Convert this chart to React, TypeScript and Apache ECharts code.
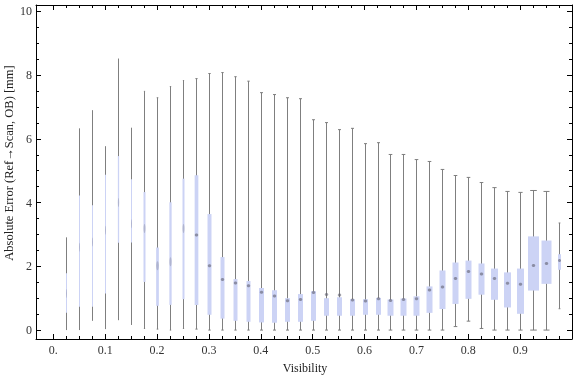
import React, { useEffect, useRef } from "react";
import * as echarts from "echarts";

// Visibility bin centres
const visibility = [
  0.025, 0.05, 0.075, 0.1, 0.125, 0.15, 0.175, 0.2, 0.225, 0.25,
  0.275, 0.3, 0.325, 0.35, 0.375, 0.4, 0.425, 0.45, 0.475, 0.5,
  0.525, 0.55, 0.575, 0.6, 0.625, 0.65, 0.675, 0.7, 0.725, 0.75,
  0.775, 0.8, 0.825, 0.85, 0.875, 0.9, 0.925, 0.95, 0.975,
];
const whiskerMin = [
  0, 0, 0.29, 0.03, 0.31, 0.16, 0.05, 0.03, 0, 0.05,
  0.03, 0, 0, 0, 0, 0, 0, 0, 0, 0,
  0, 0, 0, 0, 0, 0, 0, 0, 0, 0,
  0.11, 0.28, 0.05, 0, 0, 0, 0, 0, 0.67,
];
const quartile1 = [
  0.54, 0.73, 0.73, 1.15, 2.74, 2.75, 1.51, 0.76, 0.79, 0.97,
  0.79, 0.48, 0.36, 0.29, 0.26, 0.24, 0.23, 0.26, 0.26, 0.29,
  0.45, 0.45, 0.45, 0.48, 0.48, 0.45, 0.45, 0.45, 0.54, 0.66,
  0.82, 0.98, 1.11, 0.95, 0.71, 0.51, 1.24, 1.45, 1.89,
];
const medians = [
  1.15, 2.6, 2.76, 3.13, 4.0, 3.34, 3.19, 2.02, 2.14, 3.19,
  2.98, 2.02, 1.59, 1.48, 1.39, 1.19, 1.07, 0.92, 0.96, 1.18,
  1.12, 1.1, 0.94, 0.91, 0.98, 0.93, 0.96, 0.98, 1.26, 1.35,
  1.62, 1.84, 1.76, 1.62, 1.47, 1.44, 2.03, 2.09, 2.18,
];
const quartile3 = [
  1.78, 4.22, 3.92, 4.87, 5.46, 4.73, 4.33, 2.59, 4.01, 4.75,
  4.86, 3.64, 2.29, 1.6, 1.54, 1.32, 1.25, 1.0, 1.13, 1.22,
  1.0, 1.03, 0.97, 0.97, 1.01, 0.96, 0.99, 1.06, 1.37, 1.87,
  2.12, 2.18, 2.09, 1.93, 1.81, 1.93, 2.94, 2.81, 2.38,
];
const whiskerMax = [
  2.91, 6.33, 6.9, 5.77, 8.52, 6.35, 7.49, 7.29, 7.64, 7.83,
  7.89, 8.05, 8.08, 7.95, 7.81, 7.45, 7.39, 7.29, 7.26, 6.6,
  6.51, 6.29, 6.33, 5.85, 5.88, 5.51, 5.51, 5.35, 5.29, 5.04,
  4.85, 4.79, 4.63, 4.47, 4.35, 4.32, 4.38, 4.35, 3.36,
];
// drawn box widths in pixels (style)
const boxWidthPx = [
  1, 1, 1, 1, 1.3, 1, 2, 2.7, 2.3, 2,
  3.7, 4, 4, 4, 4, 5, 5, 5, 5, 5,
  5, 5, 5, 5, 5, 6, 6, 6, 6, 6,
  6, 6, 6, 7, 7, 7, 11, 10, 3,
];

const xMajorTicks = [0, 0.1, 0.2, 0.3, 0.4, 0.5, 0.6, 0.7, 0.8, 0.9];
const xMinorTicks = [
  0, 0.025, 0.05, 0.075, 0.1, 0.125, 0.15, 0.175, 0.2, 0.225, 0.25,
  0.275, 0.3, 0.325, 0.35, 0.375, 0.4, 0.425, 0.45, 0.475, 0.5,
  0.525, 0.55, 0.575, 0.6, 0.625, 0.65, 0.675, 0.7, 0.725, 0.75,
  0.775, 0.8, 0.825, 0.85, 0.875, 0.9, 0.925, 0.95, 0.975, 1.0,
];
const yMajorTicks = [0, 2, 4, 6, 8, 10];
const yMinorTicks = [
  0, 0.5, 1, 1.5, 2, 2.5, 3, 3.5, 4, 4.5, 5, 5.5, 6, 6.5, 7, 7.5, 8, 8.5, 9, 9.5, 10,
];

const X_MIN = -0.0335;
const X_MAX = 1.0;
const Y_MIN = -0.28;
const Y_MAX = 10.2;

const FONT = "'Liberation Serif', 'DejaVu Serif', serif";

export default function App() {
  const ref = useRef<HTMLDivElement>(null);

  useEffect(() => {
    if (!ref.current) return;
    const chart = echarts.init(ref.current, null, { renderer: "svg" });

    const data = visibility.map((v, i) => [
      v,
      whiskerMin[i],
      quartile1[i],
      medians[i],
      quartile3[i],
      whiskerMax[i],
    ]);

    const labelStyle = { fontFamily: FONT, fontSize: 12, color: "#333" };

    const xAxisBase = (position: string, ticks: number[], len: number, line: boolean, labels: boolean) => ({
      type: "value",
      min: X_MIN,
      max: X_MAX,
      position,
      splitLine: { show: false },
      axisLine: { show: line, onZero: false, lineStyle: { color: "#000", width: 1 } },
      axisTick: { show: true, inside: true, length: len, customValues: ticks, lineStyle: { color: "#000", width: 1 } },
      axisLabel: labels
        ? {
            show: true,
            customValues: xMajorTicks,
            margin: 5,
            ...labelStyle,
            formatter: (v: number) => (Math.abs(v) < 1e-9 ? "0." : v.toFixed(1)),
          }
        : { show: false },
    });
    const yAxisBase = (position: string, ticks: number[], len: number, line: boolean, labels: boolean) => ({
      type: "value",
      min: Y_MIN,
      max: Y_MAX,
      position,
      splitLine: { show: false },
      axisLine: { show: line, onZero: false, lineStyle: { color: "#000", width: 1 } },
      axisTick: { show: true, inside: true, length: len, customValues: ticks, lineStyle: { color: "#000", width: 1 } },
      axisLabel: labels
        ? {
            show: true,
            customValues: yMajorTicks,
            margin: 4,
            ...labelStyle,
            formatter: (v: number) => String(Math.round(v)),
          }
        : { show: false },
    });

    const option: any = {
      animation: false,
      grid: { left: 36, right: 4, top: 5, bottom: 38, containLabel: false },
      xAxis: [
        xAxisBase("bottom", xMajorTicks, 5, true, true),
        xAxisBase("bottom", xMinorTicks, 3, false, false),
        xAxisBase("top", xMajorTicks, 5, true, false),
        xAxisBase("top", xMinorTicks, 3, false, false),
      ],
      yAxis: [
        yAxisBase("left", yMajorTicks, 5, true, true),
        yAxisBase("left", yMinorTicks, 3, false, false),
        yAxisBase("right", yMajorTicks, 5, true, false),
        yAxisBase("right", yMinorTicks, 3, false, false),
      ],
      graphic: [
        {
          type: "text",
          x: 305,
          y: 368,
          style: {
            text: "Visibility",
            font: `12px ${FONT}`,
            fill: "#222",
            textAlign: "center",
            textVerticalAlign: "middle",
          },
        },
        {
          type: "text",
          x: 9,
          y: 163,
          rotation: Math.PI / 2,
          style: {
            text: "Absolute Error (Ref\u2192Scan, OB) [mm]",
            font: `12.5px ${FONT}`,
            fill: "#222",
            textAlign: "center",
            textVerticalAlign: "middle",
          },
        },
      ],
      series: [
        {
          type: "custom",
          xAxisIndex: 0,
          yAxisIndex: 0,
          data,
          encode: { x: 0, y: [1, 2, 3, 4, 5] },
          renderItem: (params: any, api: any) => {
            const x = api.value(0);
            const pMin = api.coord([x, api.value(1)]);
            const pQ1 = api.coord([x, api.value(2)]);
            const pMed = api.coord([x, api.value(3)]);
            const pQ3 = api.coord([x, api.value(4)]);
            const pMax = api.coord([x, api.value(5)]);
            const w = boxWidthPx[params.dataIndex];
            const cx = Math.round(pMin[0]) + 0.5;
            const cap = w * 0.3;
            const gray = "#7f7f7f";
            const children: any[] = [
              {
                type: "line",
                shape: { x1: cx, y1: pMax[1], x2: cx, y2: pMin[1] },
                style: { stroke: gray, lineWidth: 1 },
              },
            ];
            if (cap >= 0.5) {
              children.push(
                {
                  type: "line",
                  shape: { x1: cx - cap, y1: pMax[1], x2: cx + cap, y2: pMax[1] },
                  style: { stroke: gray, lineWidth: 1 },
                },
                {
                  type: "line",
                  shape: { x1: cx - cap, y1: pMin[1], x2: cx + cap, y2: pMin[1] },
                  style: { stroke: gray, lineWidth: 1 },
                }
              );
            }
            children.push({
              type: "rect",
              shape: { x: cx - w / 2, y: pQ3[1], width: w, height: pQ1[1] - pQ3[1] },
              style: { fill: "#ccd3f5" },
            });
            const thin = w < 3;
            const mw = Math.min(w, 3.5);
            const mh = thin ? 9 : 3;
            children.push({
              type: "ellipse",
              shape: { cx, cy: pMed[1], rx: mw / 2, ry: mh / 2 },
              style: { fill: thin ? "rgba(110,110,125,0.3)" : "rgba(95,95,110,0.6)" },
            });
            return { type: "group", children };
          },
        },
      ],
    };

    chart.setOption(option);
    return () => chart.dispose();
  }, []);

  return (
    <div
      ref={ref}
      style={{ position: "fixed", left: 0, top: 0, width: 576, height: 377 }}
    />
  );
}
